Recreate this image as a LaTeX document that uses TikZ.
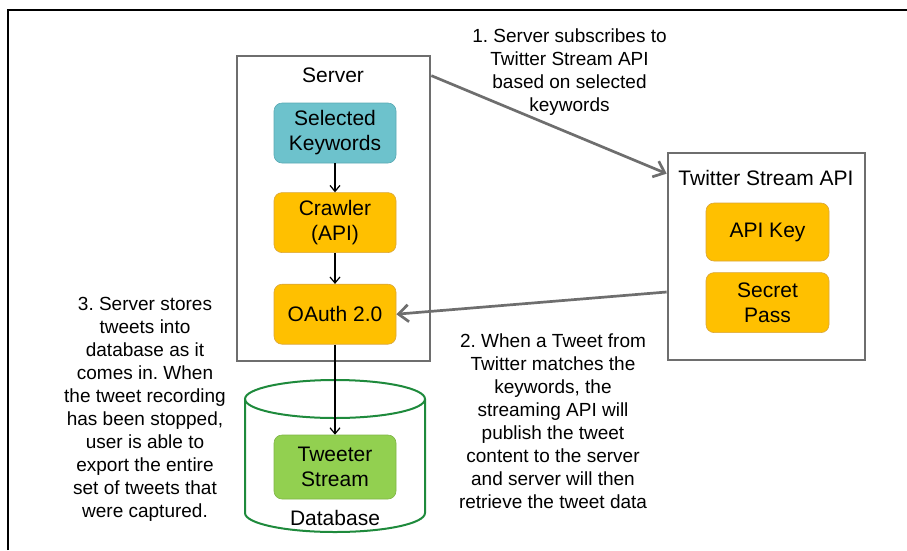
\documentclass[tikz,border=0pt]{standalone}
\usepackage{fontspec}
\setmainfont{Liberation Sans}
\usepackage{xcolor}
\usepackage{tikz}
\usetikzlibrary{arrows.meta,positioning}
\definecolor{keyteal}{HTML}{6DC2CC}
\definecolor{keytealborder}{HTML}{5AA9B3}
\definecolor{authyellow}{HTML}{FFC000}
\definecolor{authborder}{HTML}{D9A53A}
\definecolor{streamgreen}{HTML}{92D050}
\definecolor{streamborder}{HTML}{7FB447}
\definecolor{dbgreen}{HTML}{1E8A3C}
\definecolor{framegray}{HTML}{6E6E6E}
\frenchspacing

\begin{document}
\begin{tikzpicture}[x=1pt,y=-1pt,font=\fontsize{21}{25}\selectfont,
  block/.style={rounded corners=8pt,minimum width=122pt,minimum height=60pt,align=center,inner sep=2pt,line width=0.6pt},
  group/.style={draw=framegray,line width=2.7pt,inner sep=0pt},
  note/.style={align=center,font=\fontsize{19}{23}\selectfont},
  flow/.style={-{Straight Barb[length=6pt,width=10pt]},line width=1.2pt},
  link/.style={draw=framegray,line width=2.7pt,-{Straight Barb[length=10pt,width=17pt]}}]
\useasboundingbox (0,0) rectangle (907,550);
\draw[line width=1.2pt] (8,550) -- (8,10) -- (907,10);

\node[group,minimum width=193pt,minimum height=305pt] (server) at (333.5,208.5) {};
\node (serverlabel) at (333,75) {Server};
\node[block,fill=keyteal,draw=keytealborder] (keywords) at (335,133) {Selected\\Keywords};
\node[block,fill=authyellow,draw=authborder,below=29pt of keywords] (crawler) {Crawler\\(API)};
\node[block,fill=authyellow,draw=authborder,below=31pt of crawler] (oauth) {OAuth 2.0};

\node[group,minimum width=197pt,minimum height=207pt] (twitter) at (766.5,256.5) {};
\node (twitterlabel) at (766,178) {Twitter Stream API};
\node[block,fill=authyellow,draw=authborder,minimum width=123pt,minimum height=58pt] (apikey) at (767.5,232) {API Key};
\node[block,fill=authyellow,draw=authborder,minimum width=123pt,below=11pt of apikey] (secret) {Secret\\Pass};

\draw[dbgreen,line width=2pt] (245,399) -- (245,513) arc[start angle=180,end angle=360,x radius=90pt,y radius=19pt] -- (425,399);
\draw[dbgreen,line width=2pt] (335,399) ellipse[x radius=90pt,y radius=19pt];
\node[block,fill=streamgreen,draw=streamborder,minimum height=64pt] (stream) at (335,467) {Tweeter\\Stream};
\node (database) at (335,518) {Database};

\draw[flow] (keywords) -- (crawler);
\draw[flow] (crawler) -- (oauth);
\draw[flow] (oauth) -- (stream);
\draw[link] ([yshift=-21pt]server.north east) -- ([yshift=-22pt]twitter.north west);
\draw[link] ([yshift=-35.5pt]twitter.west) -- (oauth.east);

\node[note] (subscribe) at (569.5,72.5) {1. Server subscribes to\\Twitter Stream API\\based on selected\\keywords};
\node[note] (publish) at (553,421) {2. When a Tweet from\\Twitter matches the\\keywords, the\\streaming API will\\publish the tweet\\content to the server\\and server will then\\retrieve the tweet data};
\node[note] (store) at (145,409) {3. Server stores\\tweets into\\database as it\\comes in. When\\the tweet recording\\has been stopped,\\user is able to\\export the entire\\set of tweets that\\were captured.};
\end{tikzpicture}
\end{document}
